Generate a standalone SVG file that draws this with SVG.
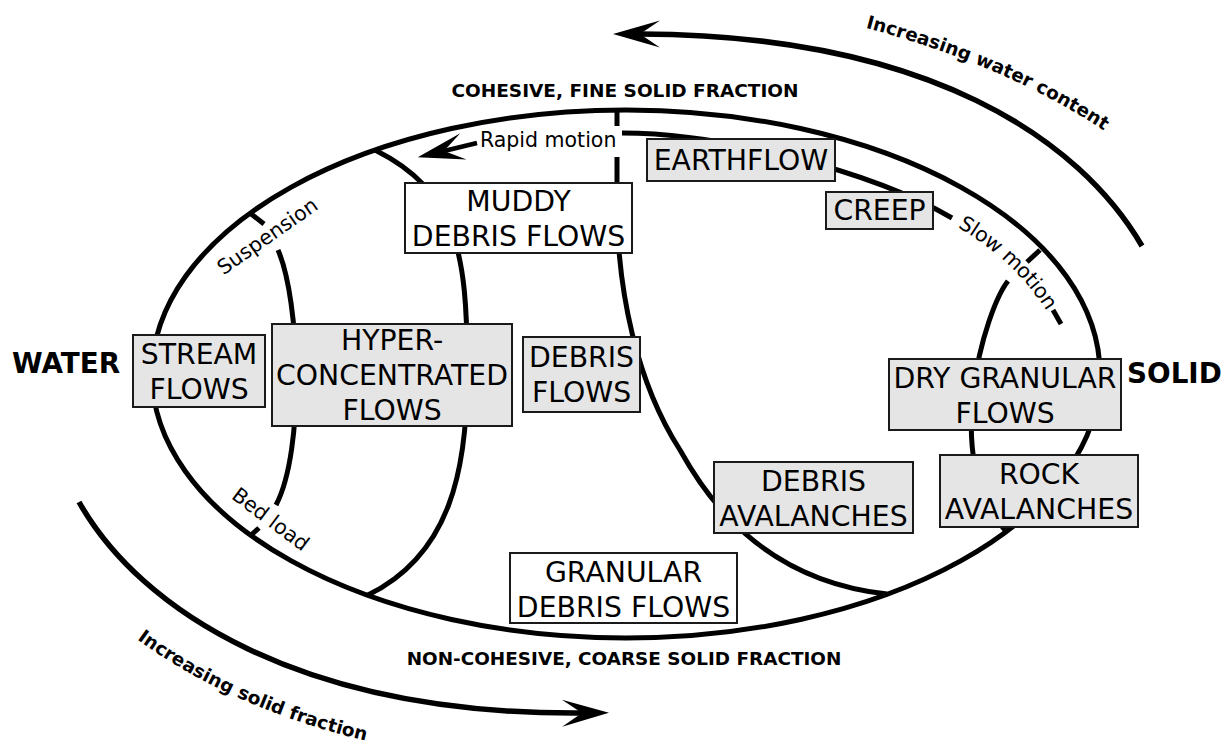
<svg xmlns="http://www.w3.org/2000/svg" width="1230" height="744" viewBox="0 0 1230 744">
<style>
.ln{fill:none;stroke:#000;stroke-width:5}
.ar{fill:none;stroke:#000;stroke-width:5.5}
.box{fill:#e5e5e5;stroke:#1a1a1a;stroke-width:2}
.wbox{fill:#fff;stroke:#1a1a1a;stroke-width:2}
.lbl{font-family:"DejaVu Sans","Liberation Sans",sans-serif;font-size:28.3px;text-anchor:middle;fill:#000}
.sm{font-family:"DejaVu Sans","Liberation Sans",sans-serif;font-size:20.5px;fill:#000}
.bd{font-family:"DejaVu Sans","Liberation Sans",sans-serif;font-weight:bold;fill:#000}
</style>
<defs>
<marker id="ah" markerUnits="userSpaceOnUse" orient="auto" viewBox="-25 -16 56 32" markerWidth="56" markerHeight="32" refX="0" refY="0">
<path d="M27,0 L-20,-13.5 L0,0 L-20,13.5 Z" fill="#000"/>
</marker>
<path id="tpWater" d="M846,23 L866,28 Q1002,64 1100,128 L1125,145"/>
<path id="tpSolid" d="M35,531 C100,643 286,765 582,765"/>
<path id="tpSlow" d="M950,216 Q1021,254 1058,318"/>
</defs>
<rect width="1230" height="744" fill="#fff"/>
<g id="connectors">
<ellipse class="ln" cx="626" cy="374" rx="474" ry="264"/>
<path class="ln" d="M250,213 L264,224"/>
<path class="ln" d="M278,250 C300,300 305,450 276,505"/>
<path class="ln" d="M259,528 L250,536"/>
<path class="ln" d="M375,150 C455,190 468,250 467,370 C468,470 450,555 368,595"/>
<path class="ln" d="M617,110 L617,126"/>
<path class="ln" d="M617,157 L617,215 C619,290 635,380 680,450 C705,495 760,580 887,594"/>
<path class="ln" d="M622,133 C720,133 870,170 952,218"/>
<path class="ln" d="M1053,310 L1061,324"/>
<path class="ln" d="M1040,250 L1027,262"/>
<path class="ln" d="M1008,281 C985,310 940,460 1005,530"/>
<path class="ar" d="M1142,246 C1080,140 930,35 640,34" marker-end="url(#ah)"/>
<path class="ar" d="M79,502 C140,610 300,715 582,713" marker-end="url(#ah)"/>
<path class="ln" style="stroke-width:4.5" d="M477,143 L444,151" marker-end="url(#ah)"/>
</g>
<g id="stream-flows"><rect class="box" x="133" y="335" width="132" height="72"/><text class="lbl" x="199" y="363.5">STREAM</text><text class="lbl" x="199" y="398.5">FLOWS</text></g>
<g id="hyperconcentrated-flows"><rect class="box" x="272" y="324" width="240" height="102"/><text class="lbl" x="392" y="350">HYPER-</text><text class="lbl" x="392" y="385">CONCENTRATED</text><text class="lbl" x="392" y="420">FLOWS</text></g>
<g id="muddy-debris-flows"><rect class="wbox" x="405" y="183" width="227" height="70"/><text class="lbl" x="518.5" y="211">MUDDY</text><text class="lbl" x="518.5" y="246">DEBRIS FLOWS</text></g>
<g id="debris-flows"><rect class="box" x="523" y="337" width="117" height="75"/><text class="lbl" x="581.5" y="367">DEBRIS</text><text class="lbl" x="581.5" y="402">FLOWS</text></g>
<g id="earthflow"><rect class="box" x="647" y="139" width="188" height="42"/><text class="lbl" x="741" y="169.5">EARTHFLOW</text></g>
<g id="creep"><rect class="box" x="826" y="192" width="107" height="37"/><text class="lbl" x="879.5" y="220">CREEP</text></g>
<g id="dry-granular-flows"><rect class="box" x="889" y="359" width="232" height="71"/><text class="lbl" x="1005" y="387.5">DRY GRANULAR</text><text class="lbl" x="1005" y="422.5">FLOWS</text></g>
<g id="rock-avalanches"><rect class="box" x="940" y="455" width="198" height="72"/><text class="lbl" x="1039" y="483.5">ROCK</text><text class="lbl" x="1039" y="518.5">AVALANCHES</text></g>
<g id="debris-avalanches"><rect class="box" x="714" y="462" width="199" height="71"/><text class="lbl" x="813.5" y="490.5">DEBRIS</text><text class="lbl" x="813.5" y="525.5">AVALANCHES</text></g>
<g id="granular-debris-flows"><rect class="wbox" x="510" y="553" width="227" height="70"/><text class="lbl" x="623.5" y="581.5">GRANULAR</text><text class="lbl" x="623.5" y="616.5">DEBRIS FLOWS</text></g>
<g id="labels">
<text class="bd" x="12" y="373" font-size="27.8">WATER</text>
<text class="bd" x="1127" y="383" font-size="27.8">SOLID</text>
<text class="bd" x="625" y="97" font-size="18.5" text-anchor="middle">COHESIVE, FINE SOLID FRACTION</text>
<text class="bd" x="624" y="665" font-size="18.4" text-anchor="middle">NON-COHESIVE, COARSE SOLID FRACTION</text>
<text class="sm" x="480" y="147">Rapid motion</text>
<text class="sm" transform="translate(268,237) rotate(-35)" y="6" text-anchor="middle">Suspension</text>
<text class="sm" transform="translate(270,520) rotate(37)" y="6" text-anchor="middle">Bed load</text>
<text class="sm" dy="6"><textPath href="#tpSlow" startOffset="50%" text-anchor="middle">Slow motion</textPath></text>
<text class="bd" font-size="18.4"><textPath href="#tpWater" startOffset="20">Increasing water content</textPath></text>
<text class="bd" font-size="18.4"><textPath href="#tpSolid" startOffset="150">Increasing solid fraction</textPath></text>
</g>
</svg>
